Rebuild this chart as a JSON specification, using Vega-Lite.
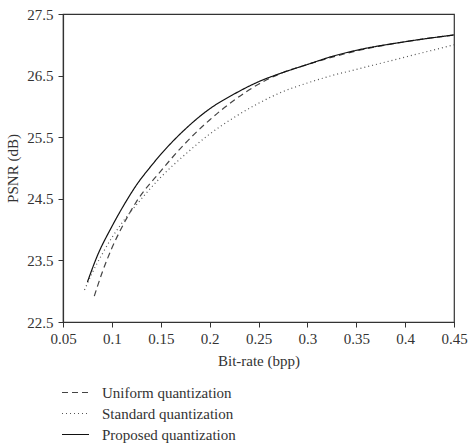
{
  "$schema": "https://vega.github.io/schema/vega-lite/v6.json",
  "width": 391,
  "height": 308,
  "autosize": {"type": "none"},
  "padding": {"left": 63, "top": 14, "right": 15, "bottom": 122},
  "config": {
    "font": "Liberation Serif",
    "view": {"stroke": "#333", "strokeWidth": 1.2},
    "axis": {
      "domainColor": "#333",
      "tickColor": "#333",
      "labelColor": "#333",
      "titleColor": "#333",
      "labelFont": "Liberation Serif",
      "titleFont": "Liberation Serif",
      "labelFontSize": 15,
      "titleFontSize": 15,
      "titleFontWeight": "normal",
      "grid": false,
      "tickSize": 5,
      "domainWidth": 1.2
    }
  },
  "data": {
    "values": [
      {"rate": 0.082, "psnr": 22.92, "method": "Uniform quantization"},
      {"rate": 0.09, "psnr": 23.3, "method": "Uniform quantization"},
      {"rate": 0.1, "psnr": 23.7, "method": "Uniform quantization"},
      {"rate": 0.11, "psnr": 24.03, "method": "Uniform quantization"},
      {"rate": 0.125, "psnr": 24.45, "method": "Uniform quantization"},
      {"rate": 0.15, "psnr": 24.95, "method": "Uniform quantization"},
      {"rate": 0.175, "psnr": 25.4, "method": "Uniform quantization"},
      {"rate": 0.2, "psnr": 25.78, "method": "Uniform quantization"},
      {"rate": 0.225, "psnr": 26.1, "method": "Uniform quantization"},
      {"rate": 0.25, "psnr": 26.36, "method": "Uniform quantization"},
      {"rate": 0.275, "psnr": 26.55, "method": "Uniform quantization"},
      {"rate": 0.3, "psnr": 26.68, "method": "Uniform quantization"},
      {"rate": 0.35, "psnr": 26.9, "method": "Uniform quantization"},
      {"rate": 0.4, "psnr": 27.05, "method": "Uniform quantization"},
      {"rate": 0.45, "psnr": 27.16, "method": "Uniform quantization"},
      {"rate": 0.072, "psnr": 23.02, "method": "Standard quantization"},
      {"rate": 0.08, "psnr": 23.3, "method": "Standard quantization"},
      {"rate": 0.09, "psnr": 23.6, "method": "Standard quantization"},
      {"rate": 0.1, "psnr": 23.87, "method": "Standard quantization"},
      {"rate": 0.11, "psnr": 24.1, "method": "Standard quantization"},
      {"rate": 0.125, "psnr": 24.4, "method": "Standard quantization"},
      {"rate": 0.15, "psnr": 24.85, "method": "Standard quantization"},
      {"rate": 0.175, "psnr": 25.22, "method": "Standard quantization"},
      {"rate": 0.2, "psnr": 25.55, "method": "Standard quantization"},
      {"rate": 0.225, "psnr": 25.82, "method": "Standard quantization"},
      {"rate": 0.25, "psnr": 26.05, "method": "Standard quantization"},
      {"rate": 0.275, "psnr": 26.24, "method": "Standard quantization"},
      {"rate": 0.3, "psnr": 26.38, "method": "Standard quantization"},
      {"rate": 0.325, "psnr": 26.5, "method": "Standard quantization"},
      {"rate": 0.35, "psnr": 26.6, "method": "Standard quantization"},
      {"rate": 0.4, "psnr": 26.8, "method": "Standard quantization"},
      {"rate": 0.45, "psnr": 27.0, "method": "Standard quantization"},
      {"rate": 0.075, "psnr": 23.15, "method": "Proposed quantization"},
      {"rate": 0.085, "psnr": 23.57, "method": "Proposed quantization"},
      {"rate": 0.1, "psnr": 24.05, "method": "Proposed quantization"},
      {"rate": 0.115, "psnr": 24.47, "method": "Proposed quantization"},
      {"rate": 0.125, "psnr": 24.72, "method": "Proposed quantization"},
      {"rate": 0.14, "psnr": 25.03, "method": "Proposed quantization"},
      {"rate": 0.15, "psnr": 25.22, "method": "Proposed quantization"},
      {"rate": 0.175, "psnr": 25.63, "method": "Proposed quantization"},
      {"rate": 0.2, "psnr": 25.96, "method": "Proposed quantization"},
      {"rate": 0.225, "psnr": 26.2, "method": "Proposed quantization"},
      {"rate": 0.25, "psnr": 26.4, "method": "Proposed quantization"},
      {"rate": 0.275, "psnr": 26.55, "method": "Proposed quantization"},
      {"rate": 0.3, "psnr": 26.68, "method": "Proposed quantization"},
      {"rate": 0.325, "psnr": 26.81, "method": "Proposed quantization"},
      {"rate": 0.35, "psnr": 26.91, "method": "Proposed quantization"},
      {"rate": 0.4, "psnr": 27.05, "method": "Proposed quantization"},
      {"rate": 0.45, "psnr": 27.16, "method": "Proposed quantization"}
    ]
  },
  "mark": {"type": "line", "strokeWidth": 1.2, "interpolate": "monotone"},
  "encoding": {
    "x": {
      "field": "rate",
      "type": "quantitative",
      "scale": {"domain": [0.05, 0.45], "nice": false, "zero": false},
      "axis": {
        "title": "Bit-rate (bpp)",
        "values": [0.05, 0.1, 0.15, 0.2, 0.25, 0.3, 0.35, 0.4, 0.45],
        "format": "~g",
        "labelPadding": 4,
        "titlePadding": 7,
        "labelFlush": false
      }
    },
    "y": {
      "field": "psnr",
      "type": "quantitative",
      "scale": {"domain": [22.5, 27.5], "nice": false, "zero": false},
      "axis": {
        "title": "PSNR (dB)",
        "values": [22.5, 23.5, 24.5, 25.5, 26.5, 27.5],
        "format": ".1f",
        "labelPadding": 5,
        "titlePadding": 6,
        "labelFlush": false
      }
    },
    "color": {
      "field": "method",
      "type": "nominal",
      "sort": ["Uniform quantization", "Standard quantization", "Proposed quantization"],
      "scale": {
        "domain": ["Uniform quantization", "Standard quantization", "Proposed quantization"],
        "range": ["#444", "#555", "#111"]
      },
      "legend": {
        "title": null,
        "orient": "none",
        "legendX": -2,
        "legendY": 368,
        "symbolType": "stroke",
        "symbolSize": 729,
        "symbolStrokeWidth": 1.2,
        "labelFont": "Liberation Serif",
        "labelFontSize": 15,
        "labelColor": "#333",
        "labelOffset": 12,
        "clipHeight": 21,
        "rowPadding": 0
      }
    },
    "strokeDash": {
      "field": "method",
      "type": "nominal",
      "sort": ["Uniform quantization", "Standard quantization", "Proposed quantization"],
      "scale": {
        "domain": ["Uniform quantization", "Standard quantization", "Proposed quantization"],
        "range": [[6, 4], [1, 3], [1, 0]]
      },
      "legend": null
    }
  }
}
